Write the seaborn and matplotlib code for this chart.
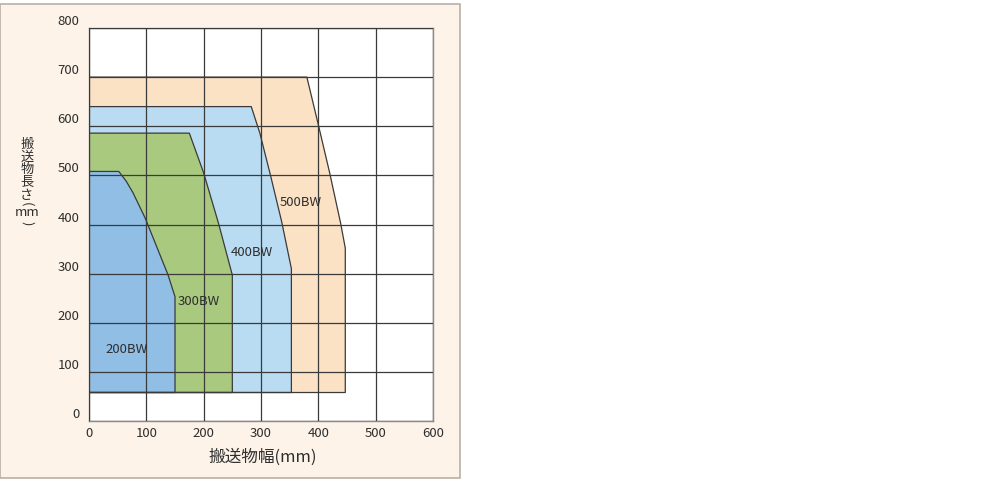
import matplotlib
matplotlib.use("Agg")
import matplotlib.pyplot as plt
import matplotlib.patches as mpatches
import seaborn as sns

# outline of each conveyable area (width mm, length mm)
bw500_x = [0, 380, 400, 420, 439, 447, 447, 0]
bw500_y = [700, 700, 603, 504, 402, 352, 58, 58]
bw400_x = [0, 283, 298, 317, 336, 353, 353, 0]
bw400_y = [640, 640, 586, 498, 406, 310, 58, 58]
bw300_x = [0, 175, 200, 226, 250, 250, 0]
bw300_y = [586, 586, 505, 402, 297, 58, 58]
bw200_x = [0, 52, 65, 77, 98, 118, 138, 150, 150, 0]
bw200_y = [508, 508, 488, 464, 413, 355, 297, 253, 58, 58]

labels = ["500BW", "400BW", "300BW", "200BW"]
label_x = [370, 284, 192, 66]
label_y = [444, 344, 244, 145]
colors = ["#fbe2c5", "#badcf3", "#a9c97f", "#90bee5"]

x_ticks = [0, 100, 200, 300, 400, 500, 600]
y_ticks = [0, 100, 200, 300, 400, 500, 600, 700, 800]

# vertical axis title, one glyph per line (brackets turned sideways)
ylabel_chars = ["搬", "送", "物", "長", "さ", "(", "mm", ")"]
ylabel_pos = [144, 157, 169, 182, 195, 204, 213, 223]
ylabel_rot = [0, 0, 0, 0, 0, -90, 0, -90]

sns.set_style("white")
plt.rcParams["font.family"] = ["Noto Sans CJK JP", "DejaVu Sans"]

fig = plt.figure(figsize=(10, 4.82), dpi=100)
fig.patch.set_facecolor("white")
panel = mpatches.Rectangle((0.0, 4 / 482), 460 / 1000, 474 / 482, transform=fig.transFigure,
                           facecolor="#fdf3e8", edgecolor="#b8b0a8", linewidth=1.2, zorder=-5)
fig.patches.append(panel)

ax = fig.add_axes([0.089, 61 / 482, 0.344, 393 / 482])
ax.set_zorder(1)
ax.set_facecolor("white")

shapes = [(bw500_x, bw500_y), (bw400_x, bw400_y), (bw300_x, bw300_y), (bw200_x, bw200_y)]
for (xs, ys), c in zip(shapes, colors):
    ax.fill(xs, ys, color=c, zorder=1, linewidth=0)
    sns.lineplot(x=xs + [xs[0]], y=ys + [ys[0]], sort=False, estimator=None,
                 color="#3a3a3a", linewidth=0.9, ax=ax, zorder=3)

for lab, lx, ly in zip(labels, label_x, label_y):
    ax.text(lx, ly, lab, ha="center", va="center", fontsize=9.5, color="#2e2e2e", zorder=4)

ax.set_xlim(0, 600)
ax.set_ylim(0, 800)
ax.set_xticks(x_ticks)
ax.set_yticks(y_ticks)
ax.grid(True, color="#3a3a3a", linewidth=0.9, zorder=2)
ax.set_axisbelow(False)
for s in ax.spines.values():
    s.set_color("#8a8a8a")
    s.set_linewidth(1.0)
ax.tick_params(axis="x", length=0, labelsize=9.5, colors="#2e2e2e", pad=4)
ax.tick_params(axis="y", length=0, labelsize=9.5, colors="#2e2e2e", pad=7)
for t in ax.get_yticklabels():
    t.set_verticalalignment("bottom")

fig.text(263 / 1000, 1 - 457 / 482, "搬送物幅(mm)", ha="center", va="center",
         fontsize=12, color="#2e2e2e")
for ch, py, rot in zip(ylabel_chars, ylabel_pos, ylabel_rot):
    fig.text(27 / 1000, 1 - py / 482, ch, ha="center", va="center", rotation=rot,
             fontsize=9.5, color="#2e2e2e")

fig.savefig("out.png", dpi=100, facecolor="white")
